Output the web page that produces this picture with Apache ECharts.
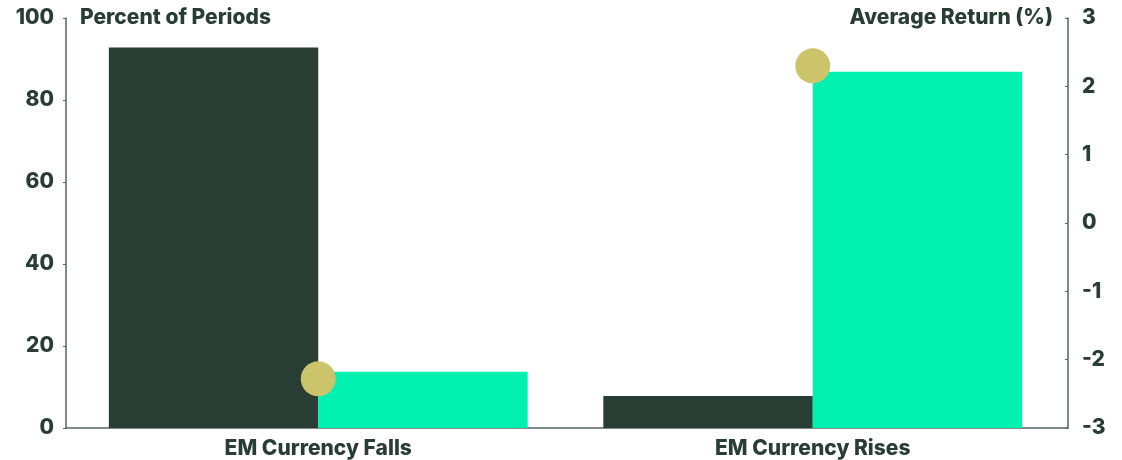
<!DOCTYPE html>
<html><head><meta charset="utf-8">
<script src="https://cdn.jsdelivr.net/npm/echarts@6/dist/echarts.min.js"></script>
<style>html,body{margin:0;padding:0;background:#fff}#c{width:1122px;height:460px}</style>
</head><body><div id="c"></div>
<script>
const categories = ['EM Currency Falls', 'EM Currency Rises'];
const darkSeries = [92.8, 7.8];
const brightSeries = [13.7, 86.9];
const avgReturn = [-2.28, 2.3];
const leftTicks = [0, 20, 40, 60, 80, 100];
const rightTicks = [-3, -2, -1, 0, 1, 2, 3];

const txt = '#283d33';
const axisCol = '#55655f';
const font = 'Inter';
const lbl = { color: txt, fontFamily: font, fontWeight: 800, fontSize: 21 };
const chart = echarts.init(document.getElementById('c'));
chart.setOption({
  animation: false,
  grid: [
    { left: 71, right: 62, top: 18, bottom: 32 },
    { left: 66, right: 54, top: 18, bottom: 32 }
  ],
  xAxis: [{
    type: 'category', data: categories, gridIndex: 0,
    axisLine: { show: false },
    axisTick: { show: false },
    axisLabel: Object.assign({ margin: 10 }, lbl)
  }, {
    type: 'value', gridIndex: 1, min: 0, max: 1,
    axisLine: { show: true, lineStyle: { color: axisCol, width: 1.5 } },
    axisTick: { show: false }, axisLabel: { show: false }, splitLine: { show: false }
  }],
  yAxis: [{
    type: 'value', gridIndex: 0, offset: 5,
    min: leftTicks[0], max: leftTicks[leftTicks.length - 1], interval: 20,
    axisLine: { show: true, lineStyle: { color: axisCol, width: 1.5 } },
    axisTick: { show: true, length: 3, lineStyle: { color: axisCol } },
    splitLine: { show: false },
    axisLabel: Object.assign({ margin: 12 }, lbl)
  }, {
    type: 'value', gridIndex: 0, offset: 8,
    min: rightTicks[0], max: rightTicks[rightTicks.length - 1], interval: 1,
    position: 'right',
    axisLine: { show: true, lineStyle: { color: axisCol, width: 1.5 } },
    axisTick: { show: true, inside: true, length: 3, lineStyle: { color: axisCol } },
    splitLine: { show: false },
    axisLabel: Object.assign({ margin: 14 }, lbl)
  }, {
    type: 'value', gridIndex: 1, show: false, min: 0, max: 1
  }],
  graphic: [
    { type: 'text', left: 80, top: 7, style: { text: 'Percent of Periods', fill: txt, font: '800 21px Inter' } },
    { type: 'text', right: 69, top: 7, style: { text: 'Average Return (%)', fill: txt, font: '800 21px Inter' } }
  ],
  series: [
    { type: 'bar', data: darkSeries, barGap: '0%', barCategoryGap: '15.3%', itemStyle: { color: '#283d33' } },
    { type: 'bar', data: brightSeries, itemStyle: { color: '#00f0b0' } },
    { type: 'scatter', yAxisIndex: 1, data: avgReturn, symbolSize: 35, itemStyle: { color: '#ccc46a', opacity: 1 }, z: 5 }
  ]
});
</script></body></html>
